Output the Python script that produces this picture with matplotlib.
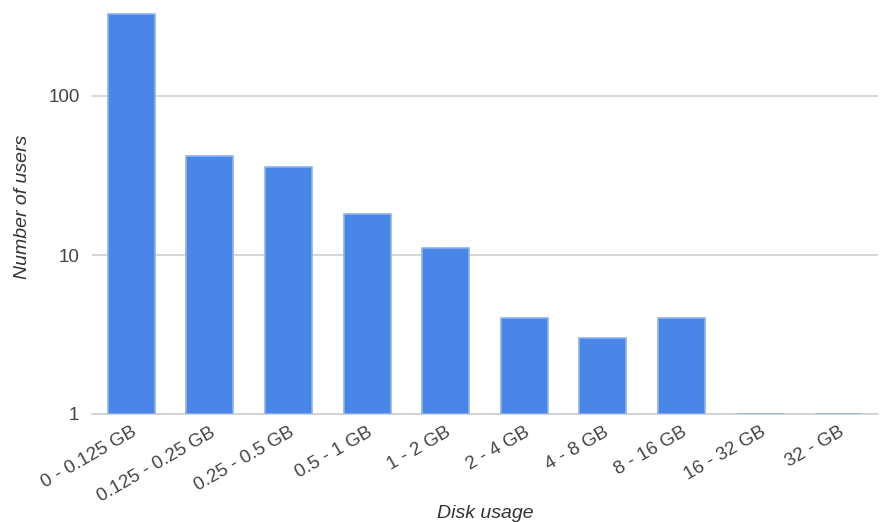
import numpy as np
import matplotlib.pyplot as plt

# Disk usage buckets and user counts
categories = ['0 - 0.125 GB', '0.125 - 0.25 GB', '0.25 - 0.5 GB', '0.5 - 1 GB',
              '1 - 2 GB', '2 - 4 GB', '4 - 8 GB', '8 - 16 GB', '16 - 32 GB', '32 - GB']
users = [330, 42, 36, 18, 11, 4, 3, 4, 1, 1]
yticks = [1, 10, 100]

plt.rcParams['font.family'] = ['Liberation Sans', 'DejaVu Sans']

fig = plt.figure(figsize=(8.81, 5.22), dpi=100)
# axes placed in pixel terms: left 92, right 878, bottom 414 (from top), top 0
ax = fig.add_axes([92 / 881, (522 - 414) / 522, (878 - 92) / 881, 414 / 522])

x = np.arange(len(categories))
ax.bar(x, np.array(users) - 1, bottom=1, width=0.6, color='#4a86e8',
       edgecolor='#8db2f0', linewidth=1.2, zorder=3)

ax.set_yscale('log')
ax.set_ylim(1, 10 ** (414 / 159))
ax.set_xlim(-0.5, len(categories) - 0.5)

ax.set_yticks(yticks)
ax.set_yticklabels([str(t) for t in yticks])
ax.yaxis.set_minor_locator(plt.NullLocator())
ax.grid(axis='y', color='#d0d0d0', linewidth=1.2, zorder=0)
ax.tick_params(axis='y', length=0, pad=9, labelsize=13.5, labelcolor='#444444')

ax.set_xticks(x)
ax.set_xticklabels(categories, rotation=30, ha='right', rotation_mode='anchor')
ax.tick_params(axis='x', length=0, pad=7, labelsize=13.5, labelcolor='#444444')

for side in ['top', 'right', 'left']:
    ax.spines[side].set_visible(False)
ax.spines['bottom'].set_color('#d0d0d0')
ax.spines['bottom'].set_linewidth(1.2)
ax.spines['bottom'].set_zorder(1)

ax.set_xlabel('Disk usage', style='italic', fontsize=14, color='#333333', va='center')
ax.xaxis.set_label_coords(0.5, -0.24)
ax.set_ylabel('Number of users', style='italic', fontsize=14, color='#333333', va='center')
ax.yaxis.set_label_coords(-0.088, 0.5)

fig.savefig('out.png', dpi=100)
